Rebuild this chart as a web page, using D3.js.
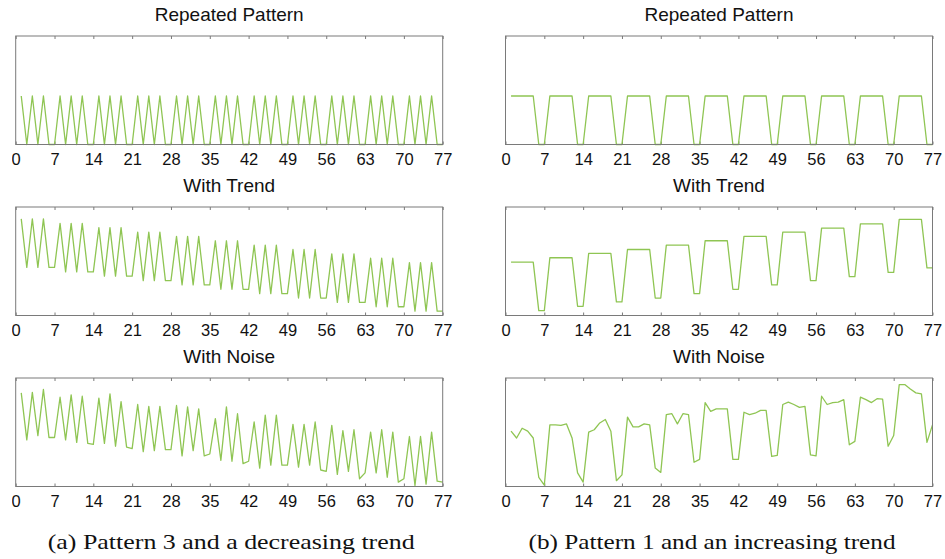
<!DOCTYPE html>
<html>
<head>
<meta charset="utf-8">
<script src="https://cdn.jsdelivr.net/npm/d3@7"></script>
<style>
  body { margin: 0; background: #fff; }
  svg { display: block; }
</style>
</head>
<body>
<svg id="fig" width="945" height="559"></svg>
<script>
// Tick labels shared by every panel's x axis
const xTickValues = [0, 7, 14, 21, 28, 35, 42, 49, 56, 63, 70, 77];

// Row titles
const rowTitles = ["Repeated Pattern", "With Trend", "With Noise"];

// Column captions
const captions = ["(a) Pattern 3 and a decreasing trend", "(b) Pattern 1 and an increasing trend"];

// Pattern 3 repeated over 11 weeks (days 1..77)
const pattern3Repeated = [
  1,0,1,0,1,0,0, 1,0,1,0,1,0,0, 1,0,1,0,1,0,0, 1,0,1,0,1,0,0,
  1,0,1,0,1,0,0, 1,0,1,0,1,0,0, 1,0,1,0,1,0,0, 1,0,1,0,1,0,0,
  1,0,1,0,1,0,0, 1,0,1,0,1,0,0, 1,0,1,0,1,0,0
];

// Pattern 3 plus a decreasing weekly trend
const pattern3Trend = [
  1.99,0.99,1.99,0.99,1.99,0.99,0.99,
  1.90,0.90,1.90,0.90,1.90,0.90,0.90,
  1.81,0.81,1.81,0.81,1.81,0.81,0.81,
  1.72,0.72,1.72,0.72,1.72,0.72,0.72,
  1.63,0.63,1.63,0.63,1.63,0.63,0.63,
  1.54,0.54,1.54,0.54,1.54,0.54,0.54,
  1.45,0.45,1.45,0.45,1.45,0.45,0.45,
  1.36,0.36,1.36,0.36,1.36,0.36,0.36,
  1.27,0.27,1.27,0.27,1.27,0.27,0.27,
  1.18,0.18,1.18,0.18,1.18,0.18,0.18,
  1.09,0.09,1.09,0.09,1.09,0.09,0.09
];

// Pattern 3 with trend and noise
const pattern3Noise = [
  1.93,0.96,1.94,1.05,2.00,1.01,1.01,
  1.84,0.96,1.89,0.91,1.86,0.89,0.87,
  1.82,0.89,1.91,0.83,1.75,0.81,0.78,
  1.69,0.72,1.65,0.74,1.65,0.76,0.76,
  1.67,0.63,1.64,0.74,1.60,0.63,0.67,
  1.40,0.54,1.64,0.52,1.50,0.47,0.52,
  1.33,0.38,1.47,0.44,1.47,0.44,0.44,
  1.28,0.40,1.28,0.44,1.33,0.34,0.31,
  1.26,0.25,1.15,0.31,1.17,0.16,0.28,
  1.12,0.28,1.17,0.19,1.12,0.09,0.16,
  1.03,0.02,1.03,0.05,1.12,0.11,0.09
];

// Pattern 1 repeated over 11 weeks
const pattern1Repeated = [
  1,1,1,1,1,0,0, 1,1,1,1,1,0,0, 1,1,1,1,1,0,0, 1,1,1,1,1,0,0,
  1,1,1,1,1,0,0, 1,1,1,1,1,0,0, 1,1,1,1,1,0,0, 1,1,1,1,1,0,0,
  1,1,1,1,1,0,0, 1,1,1,1,1,0,0, 1,1,1,1,1,0,0
];

// Pattern 1 plus an increasing weekly trend
const pattern1Trend = [
  1.10,1.10,1.10,1.10,1.10,0.10,0.10,
  1.19,1.19,1.19,1.19,1.19,0.19,0.19,
  1.28,1.28,1.28,1.28,1.28,0.28,0.28,
  1.36,1.36,1.36,1.36,1.36,0.36,0.36,
  1.45,1.45,1.45,1.45,1.45,0.45,0.45,
  1.54,1.54,1.54,1.54,1.54,0.54,0.54,
  1.63,1.63,1.63,1.63,1.63,0.63,0.63,
  1.72,1.72,1.72,1.72,1.72,0.72,0.72,
  1.80,1.80,1.80,1.80,1.80,0.80,0.80,
  1.89,1.89,1.89,1.89,1.89,0.89,0.89,
  1.98,1.98,1.98,1.98,1.98,0.98,0.98
];

// Pattern 1 with trend and noise
const pattern1Noise = [
  1.14,1.00,1.20,1.14,1.00,0.19,0.03,
  1.27,1.27,1.26,1.29,1.00,0.28,0.09,
  1.12,1.17,1.31,1.38,1.14,0.12,0.24,
  1.43,1.23,1.23,1.29,1.27,0.38,0.29,
  1.48,1.50,1.29,1.50,1.48,0.50,0.56,
  1.73,1.55,1.60,1.60,1.60,0.56,0.56,
  1.53,1.48,1.51,1.57,1.57,0.62,0.64,
  1.69,1.74,1.69,1.63,1.65,0.65,0.63,
  1.86,1.69,1.73,1.74,1.79,0.86,0.93,
  1.84,1.79,1.73,1.81,1.80,0.83,1.05,
  2.10,2.10,2.01,1.93,1.91,0.91,1.27
];

// Shared value range of the y axis
const yDomain = [0, 2.236];

const columns = [
  { left: 15.7, right: 442.7, series: [pattern3Repeated, pattern3Trend, pattern3Noise] },
  { left: 505.5, right: 932.5, series: [pattern1Repeated, pattern1Trend, pattern1Noise] }
];
const rowTops = [36, 207, 378];
const panelHeight = 108.5;

const lineColor = "#8fc553";
const frameColor = "#7a7a7a";
const sansFont = "'Liberation Sans', Arial, sans-serif";

const svg = d3.select("#fig");

// The figure is trimmed at its left edge, which cuts into the first "0" label
svg.append("defs").append("clipPath")
  .attr("id", "figure-trim")
  .append("rect")
  .attr("x", 12).attr("y", 0)
  .attr("width", 945 - 12).attr("height", 559);

const root = svg.append("g").attr("clip-path", "url(#figure-trim)");

columns.forEach((col, ci) => {
  const w = col.right - col.left;
  const x = d3.scaleLinear().domain([0, 77]).range([0, w]);
  const y = d3.scaleLinear().domain(yDomain).range([panelHeight, 0]);

  col.series.forEach((values, ri) => {
    const g = root.append("g")
      .attr("transform", `translate(${col.left},${rowTops[ri]})`);

    // Title above the frame
    g.append("text")
      .attr("x", w / 2)
      .attr("y", -15)
      .attr("text-anchor", "middle")
      .attr("font-family", sansFont)
      .attr("font-size", 19)
      .attr("fill", "#111")
      .text(rowTitles[ri]);

    // Bottom axis: inward ticks with labels
    const bottom = g.append("g")
      .attr("transform", `translate(0,${panelHeight})`)
      .call(d3.axisBottom(x).tickValues(xTickValues).tickSize(-3).tickPadding(9).tickSizeOuter(0));
    bottom.select(".domain").remove();
    bottom.selectAll(".tick line").attr("stroke", frameColor);
    bottom.selectAll(".tick text")
      .attr("font-family", sansFont)
      .attr("font-size", 16.5)
      .attr("fill", "#111");

    // Top axis: inward ticks only
    const top = g.append("g")
      .call(d3.axisTop(x).tickValues(xTickValues).tickSize(-3).tickFormat("").tickSizeOuter(0));
    top.select(".domain").remove();
    top.selectAll(".tick line").attr("stroke", frameColor);

    // Series line
    const line = d3.line()
      .x((d, i) => x(i + 1))
      .y(d => y(d));
    g.append("path")
      .datum(values)
      .attr("fill", "none")
      .attr("stroke", lineColor)
      .attr("stroke-width", 1.3)
      .attr("stroke-linejoin", "round")
      .attr("d", line);

    // Frame
    g.append("rect")
      .attr("x", 0).attr("y", 0)
      .attr("width", w).attr("height", panelHeight)
      .attr("fill", "none")
      .attr("stroke", frameColor)
      .attr("stroke-width", 1);
  });

  // Caption below the column
  root.append("text")
    .attr("x", (col.left + col.right) / 2 + (ci === 0 ? 2 : -7))
    .attr("y", 549)
    .attr("text-anchor", "middle")
    .attr("font-family", "'Liberation Serif', 'Times New Roman', serif")
    .attr("font-size", 21)
    .attr("textLength", 367)
    .attr("lengthAdjust", "spacingAndGlyphs")
    .attr("fill", "#111")
    .text(captions[ci]);
});
</script>
</body>
</html>
